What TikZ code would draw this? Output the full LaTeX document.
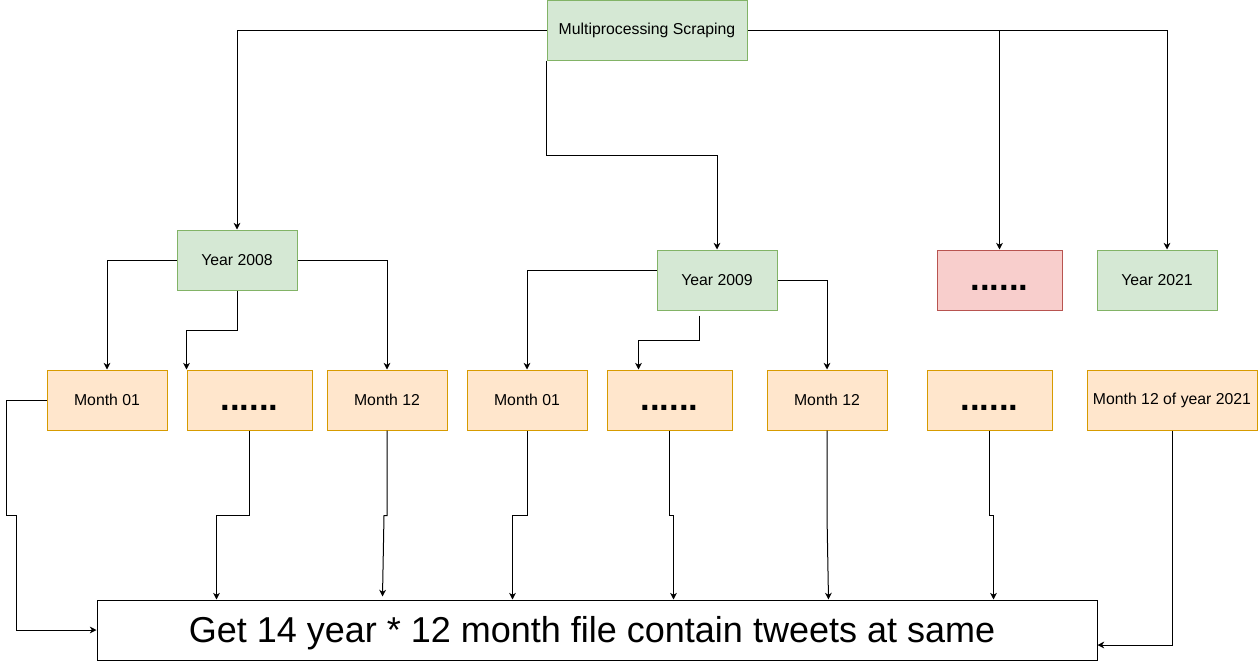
\documentclass[tikz,border=0pt]{standalone}
\usepackage{fontspec}
\setmainfont{Liberation Sans}
\usetikzlibrary{arrows.meta,calc}
\definecolor{gfill}{HTML}{D5E8D4}
\definecolor{gline}{HTML}{82B366}
\definecolor{ofill}{HTML}{FFE6CC}
\definecolor{oline}{HTML}{D79B00}
\definecolor{rfill}{HTML}{F8CECC}
\definecolor{rline}{HTML}{B85450}
\newcommand{\sixdots}{\raisebox{-7.5pt}[0pt][0pt]{......}}
\tikzset{
  box/.style={rectangle, inner sep=0pt, line width=0.75pt, font=\fontsize{11.85}{14}\selectfont},
  gbox/.style={box, fill=gfill, draw=gline, minimum width=90pt, minimum height=45pt},
  obox/.style={box, fill=ofill, draw=oline, minimum width=90pt, minimum height=45pt},
  owide/.style={box, fill=ofill, draw=oline, minimum width=93.75pt, minimum height=45pt},
  rbox/.style={box, fill=rfill, draw=rline, minimum width=93.75pt, minimum height=45pt},
  dots/.style={font=\fontsize{26}{30}\bfseries\selectfont},
  arr/.style={draw=black, line width=0.75pt, -{Stealth[length=5pt,width=5pt,inset=1.5pt]}},
}
\begin{document}
\begin{tikzpicture}[x=0.75pt,y=-0.75pt]
\useasboundingbox (0,0) rectangle (1258,661);
% top
\node[gbox, minimum width=150pt] (ms) at (647,30) {Multiprocessing Scraping};
% years
\node[gbox] (y8) at (237,260) {Year 2008};
\node[gbox] (y9) at (717,280) {Year 2009};
\node[rbox, dots] (red) at (999.5,280) {\sixdots};
\node[gbox] (y21) at (1157,280) {Year 2021};
% months
\node[obox] (m1) at (107,400) {Month 01};
\node[owide, dots] (d1) at (249.5,400) {\sixdots};
\node[obox] (m12) at (387,400) {Month 12};
\node[obox] (m1b) at (527,400) {Month 01};
\node[owide, dots] (d2) at (669.5,400) {\sixdots};
\node[obox] (m12b) at (827,400) {Month 12};
\node[owide, dots] (d3) at (989.5,400) {\sixdots};
\node[box, fill=ofill, draw=oline, minimum width=127.5pt, minimum height=45pt] (m21) at (1172,400) {Month 12 of year 2021};
% output
\node[rectangle, draw=black, fill=white, line width=0.75pt, minimum width=750pt, minimum height=45pt, inner sep=0pt,
      font=\fontsize{27}{32}\selectfont] (out) at (597,630) {\hspace*{-7.5pt}\raisebox{-9pt}[0pt][0pt]{Get 14 year * 12 month file contain tweets at same}};
% top connectors
\draw[arr] (ms.west) -| (y8.north);
\draw[arr] (ms.south west) -- ++(0,95) -| (y9.north);
\draw[arr] (ms.east) -| ($(y21.north)+(10,0)$);
\draw[arr] (ms.east -| red.north) -- (red.north);
% year 2008
\draw[arr] (y8.west) -| (m1.north);
\draw[arr] (y8.south) -- ++(0,40) -| (d1.north west);
\draw[arr] (y8.east) -| (m12.north);
% year 2009
\draw[arr] ($(y9.west)+(0,-10)$) -| (m1b.north);
\draw[arr] ($(y9.south)+(-18,5)$) -- ++(0,25) -| ($(d2.north west)+(32,0)$);
\draw[arr] (y9.east) -| (m12b.north);
% to output
\draw[arr] (m1.west) -- ++(-40,0) -- ++(0,115) -- ++(10,0) |- (out.west);
\draw[arr] (d1.south) -- ++(0,85) -| ($(out.north west)+(120,0)$);
\draw[arr] (m12.south) -- ++(0,85) -- ++(-3,0) -- ($(out.north west)+(286,-3)$);
\draw[arr] (m1b.south) -- ++(0,85) -| ($(out.north west)+(416,0)$);
\draw[arr] (d2.south) -- ++(0,85) -| ($(out.north west)+(577,0)$);
\draw[arr] (m12b.south) -- ++(0,85) -- ($(out.north west)+(732,0)$);
\draw[arr] (d3.south) -- ++(0,85) -| ($(out.north west)+(897,0)$);
\draw[arr] (m21.south) |- ($(out.east)+(0,15)$);
\end{tikzpicture}
\end{document}
